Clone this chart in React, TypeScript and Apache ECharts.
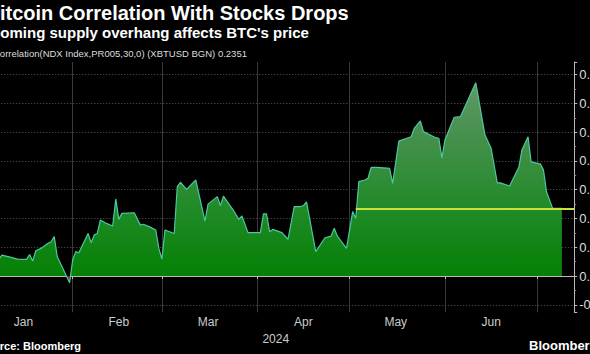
import React, { useEffect, useRef } from "react";
import * as echarts from "echarts";

const TITLE = "Bitcoin Correlation With Stocks Drops";
const SUBTITLE = "Looming supply overhang affects BTC's price";
const FORMULA = "Correlation(NDX Index,PR005,30,0) (XBTUSD BGN) 0.2351";
const SOURCE = "Source: Bloomberg";
const YEAR = "2024";
const MONTHS = ["Jan", "Feb", "Mar", "Apr", "May", "Jun", "Jul"];
const AXIS_START = "2024-01-01";
const AXIS_END = "2024-07-13";
const LAST_VALUE = 0.2351;
const LAST_LINE_START = "2024-05-03";

const corrDates = [
  "2024-01-01", "2024-01-08", "2024-01-09", "2024-01-12", "2024-01-14", "2024-01-17", "2024-01-18", "2024-01-19", "2024-01-20", "2024-01-22", "2024-01-24", "2024-01-25", "2024-01-26", "2024-01-27", "2024-01-31",
  "2024-02-01", "2024-02-02", "2024-02-03", "2024-02-06", "2024-02-07", "2024-02-08", "2024-02-09", "2024-02-10", "2024-02-12", "2024-02-14", "2024-02-15", "2024-02-16", "2024-02-17", "2024-02-21", "2024-02-23", "2024-02-24", "2024-02-26", "2024-02-28", "2024-02-29",
  "2024-03-01", "2024-03-02", "2024-03-05", "2024-03-06", "2024-03-07", "2024-03-09", "2024-03-12", "2024-03-15", "2024-03-16", "2024-03-19", "2024-03-20", "2024-03-21", "2024-03-22", "2024-03-24", "2024-03-26", "2024-03-27", "2024-03-29",
  "2024-04-02", "2024-04-03", "2024-04-04", "2024-04-05", "2024-04-06", "2024-04-09", "2024-04-11", "2024-04-13", "2024-04-15", "2024-04-16", "2024-04-17", "2024-04-20", "2024-04-23", "2024-04-25", "2024-04-26", "2024-04-27", "2024-04-30",
  "2024-05-02", "2024-05-03", "2024-05-04", "2024-05-06", "2024-05-07", "2024-05-08", "2024-05-10", "2024-05-14", "2024-05-15", "2024-05-17", "2024-05-21", "2024-05-22", "2024-05-24", "2024-05-25", "2024-05-29", "2024-05-30", "2024-05-31",
  "2024-06-01", "2024-06-04", "2024-06-06", "2024-06-11", "2024-06-14", "2024-06-16", "2024-06-18", "2024-06-19", "2024-06-22", "2024-06-25", "2024-06-26", "2024-06-28", "2024-06-29",
  "2024-07-02", "2024-07-03", "2024-07-04", "2024-07-06", "2024-07-09",
];

const corrValues = [
  0.06, 0.058, 0.073, 0.065, 0.059, 0.058, 0.075, 0.052, 0.088, 0.098, 0.114, 0.119, 0.137, 0.067, -0.023,
  0.056, 0.085, 0.081, 0.148, 0.116, 0.143, 0.148, 0.195, 0.183, 0.174, 0.268, 0.197, 0.218, 0.22, 0.177, 0.18, 0.171, 0.16, 0.096,
  0.059, 0.16, 0.148, 0.311, 0.326, 0.301, 0.334, 0.191, 0.25, 0.276, 0.245, 0.278, 0.262, 0.232, 0.197, 0.209, 0.151,
  0.151, 0.216, 0.216, 0.154, 0.162, 0.151, 0.128, 0.241, 0.241, 0.245, 0.258, 0.085, 0.133, 0.139, 0.166, 0.139, 0.096,
  0.224, 0.201, 0.328, 0.334, 0.34, 0.378, 0.378, 0.374, 0.322, 0.469, 0.484, 0.513, 0.539, 0.502, 0.481, 0.479, 0.411,
  0.473, 0.552, 0.554, 0.672, 0.49, 0.444, 0.324, 0.324, 0.313, 0.378, 0.438, 0.484, 0.397,
  0.389, 0.369, 0.293, 0.2351, 0.2351,
];

function buildDays(start: string, end: string): string[] {
  const out: string[] = [];
  const d = new Date(start + "T00:00:00Z");
  const e = new Date(end + "T00:00:00Z");
  while (d.getTime() <= e.getTime()) {
    out.push(d.toISOString().slice(0, 10));
    d.setUTCDate(d.getUTCDate() + 1);
  }
  return out;
}

// the chart canvas starts OFFSET px left of the window, as in the cropped reference
const OFFSET = 30;

export default function App() {
  const ref = useRef<HTMLDivElement>(null);
  useEffect(() => {
    if (!ref.current) return;
    const chart = echarts.init(ref.current, null, { renderer: "svg" });
    const days = buildDays(AXIS_START, AXIS_END);
    const font = "Liberation Sans";
    const option: any = {
      animation: false,
      backgroundColor: "#000",
      grid: {
        left: OFFSET - 22.7,
        right: 15.8,
        top: 62,
        bottom: 41.7,
        containLabel: false,
        outerBoundsMode: "none",
      },
      xAxis: {
        type: "category",
        data: days,
        boundaryGap: false,
        name: YEAR,
        nameLocation: "middle",
        nameGap: 15,
        nameTextStyle: { color: "#ccc", fontSize: 12, fontFamily: font },
        axisLine: { show: true, lineStyle: { color: "#bbb", width: 1 } },
        axisTick: {
          show: true,
          length: 3,
          interval: (_i: number, v: string) => v.endsWith("-01"),
          lineStyle: { color: "#bbb" },
        },
        axisLabel: {
          show: true,
          color: "#ccc",
          fontSize: 12,
          fontFamily: font,
          margin: 4,
          interval: (_i: number, v: string) => v.endsWith("-16") && !v.startsWith("2024-07"),
          formatter: (v: string) => MONTHS[parseInt(v.slice(5, 7), 10) - 1],
        },
        splitLine: {
          show: true,
          interval: (_i: number, v: string) => v.endsWith("-01"),
          lineStyle: { color: "#3a3a3a", width: 1 },
        },
      },
      yAxis: {
        type: "value",
        position: "right",
        min: -0.126,
        max: 0.744,
        splitNumber: 8,
        axisLine: { show: true, lineStyle: { color: "#bbb", width: 1 } },
        axisTick: { show: true, length: 3, lineStyle: { color: "#bbb" } },
        minorTick: { show: true, splitNumber: 2, length: 2, lineStyle: { color: "#888" } },
        axisLabel: {
          color: "#ddd",
          fontSize: 13,
          fontFamily: font,
          margin: 5,
          showMinLabel: false,
          showMaxLabel: false,
          formatter: (v: number) => {
            const t = v * 10;
            return Math.abs(t - Math.round(t)) < 1e-6 ? v.toFixed(1) : "";
          },
        },
        splitLine: {
          show: true,
          showMinLine: false,
          showMaxLine: false,
          lineStyle: { color: "#5a5a5a", width: 1, type: [1, 2] },
        },
      },
      series: [
        {
          type: "line",
          data: corrDates.map((d, i) => [d, corrValues[i]]),
          symbol: "none",
          lineStyle: { color: "#4cc7a0", width: 1.2 },
          areaStyle: {
            opacity: 1,
            color: new echarts.graphic.LinearGradient(
              0, 62, 0, 312.3,
              [
                { offset: 0, color: "#6a9c70" },
                { offset: 0.3, color: "#45904c" },
                { offset: 0.6, color: "#1f8a26" },
                { offset: 0.853, color: "#058005" },
                { offset: 0.856, color: "#8c1d1d" },
                { offset: 1, color: "#8c1d1d" },
              ],
              true
            ),
          },
          markLine: {
            silent: true,
            symbol: ["none", "none"],
            label: { show: false },
            lineStyle: { color: "#c8e43c", width: 2, type: "solid" },
            data: [[{ coord: [LAST_LINE_START, LAST_VALUE] }, { coord: [AXIS_END, LAST_VALUE] }]],
          },
        },
      ],
      graphic: [
        { type: "text", x: OFFSET - 14.5, y: 3, style: { text: TITLE, fill: "#fff", font: `bold 20px "${font}"` } },
        { type: "text", x: OFFSET - 18, y: 25, style: { text: SUBTITLE, fill: "#fff", font: `bold 15px "${font}"` } },
        { type: "text", x: OFFSET - 7, y: 48, style: { text: FORMULA, fill: "#ddd", font: `9.5px "${font}"` } },
        { type: "text", x: OFFSET - 21, y: 340, style: { text: SOURCE, fill: "#fff", font: `bold 11px "${font}"` } },
        { type: "text", x: OFFSET + 529, y: 339, style: { text: "Bloomberg", fill: "#fff", font: `bold 13px "${font}"` } },
      ],
    };
    chart.setOption(option);
    return () => chart.dispose();
  }, []);
  return (
    <div
      ref={ref}
      style={{ position: "absolute", left: -OFFSET, top: 0, width: 590 + OFFSET, height: 354, background: "#000" }}
    />
  );
}
